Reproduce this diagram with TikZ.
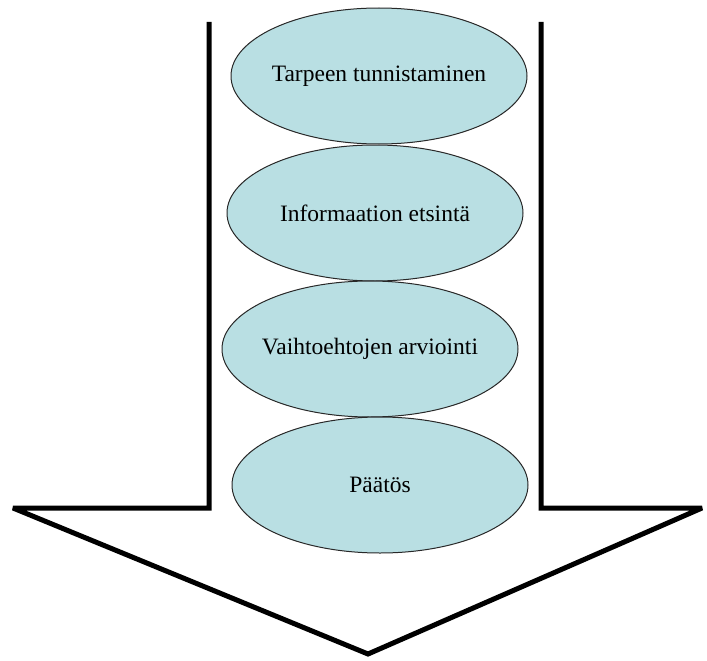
\documentclass[tikz,border=0pt]{standalone}
\usepackage{fontspec}
\setmainfont{Liberation Serif}
\usetikzlibrary{shapes.geometric}
\definecolor{stagefill}{RGB}{185,223,227}
\definecolor{stageline}{RGB}{40,40,40}
\newcommand\stagetxt[1]{\makebox[0pt]{#1}}
\tikzset{
  stage/.style={ellipse, draw=stageline, line width=1pt, fill=stagefill,
    minimum width=296pt, minimum height=136pt, inner sep=0pt,
    font=\fontsize{23.5}{27}\selectfont},
  bigarrow/.style={draw=black, line width=5pt, line join=miter, miter limit=2}
}
\begin{document}
\begin{tikzpicture}[x=1pt,y=-1pt]
\useasboundingbox (0,0) rectangle (707,661);
% arrow outline
\coordinate (lt) at (209,22);
\coordinate (lc) at (209,508);
\coordinate (le) at (13,508);
\coordinate (tip) at (368,654);
\coordinate (re) at (702,508);
\coordinate (rc) at (541,508);
\coordinate (rt) at (541,22);
\draw[bigarrow] (lt) -- (lc) -- (le) -- (tip) -- (re) -- (rc) -- (rt);
% stages
\node[stage] (e1) at (379,76) {\stagetxt{Tarpeen tunnistaminen}};
\node[stage] (e2) at (375,213) {\stagetxt{Informaation etsintä}};
\node[stage] (e3) at (370,349) {\stagetxt{Vaihtoehtojen arviointi}};
\node[stage] (e4) at (380,485) {\stagetxt{Päätös}};
\end{tikzpicture}
\end{document}
